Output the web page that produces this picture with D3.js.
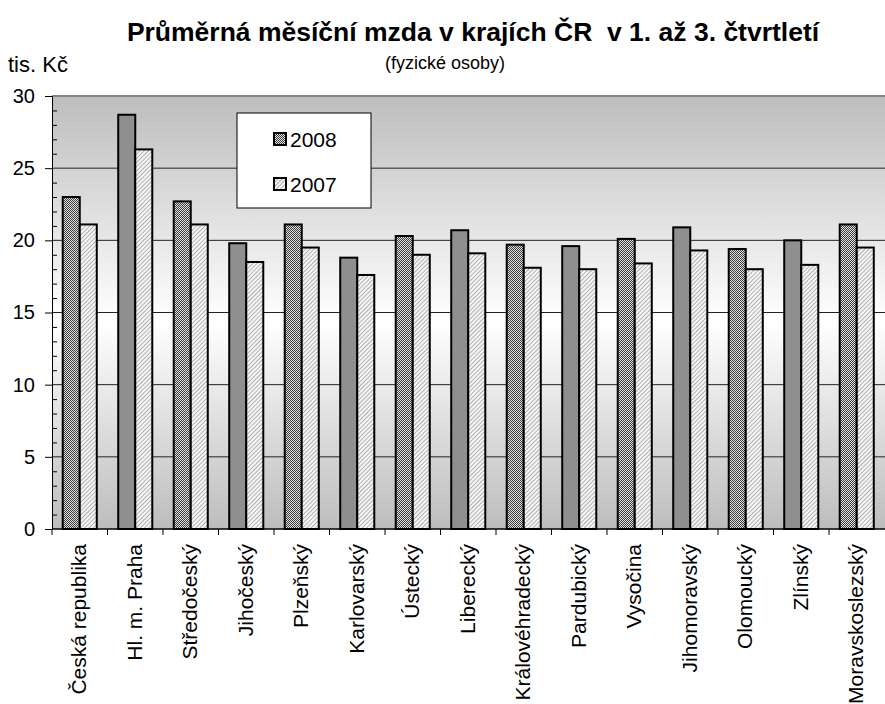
<!DOCTYPE html>
<html>
<head>
<meta charset="utf-8">
<script src="https://cdn.jsdelivr.net/npm/d3@7"></script>
<style>
  body { margin: 0; background: #fff; }
  svg { font-family: "Liberation Sans", Arial, sans-serif; }
</style>
</head>
<body>
<div id="chart"></div>
<script>
// Data
const regions = ["Česká republika", "Hl. m. Praha", "Středočeský", "Jihočeský", "Plzeňský",
  "Karlovarský", "Ústecký", "Liberecký", "Královéhradecký", "Pardubický", "Vysočina",
  "Jihomoravský", "Olomoucký", "Zlínský", "Moravskoslezský"];
const years = ["2008", "2007"];
const wage2008 = [23.0, 28.7, 22.7, 19.8, 21.1, 18.8, 20.3, 20.7, 19.7, 19.6, 20.1, 20.9, 19.4, 20.0, 21.1];
const wage2007 = [21.1, 26.3, 21.1, 18.5, 19.5, 17.6, 19.0, 19.1, 18.1, 18.0, 18.4, 19.3, 18.0, 18.3, 19.5];
const yTicks = [0, 5, 10, 15, 20, 25, 30];

const width = 885, height = 704;
const margins = {top: 96, right: 0, bottom: 175, left: 52};

const svg = d3.select("#chart").append("svg")
  .attr("width", width)
  .attr("height", height);

const defs = svg.append("defs");

// background gradient of the plot area
const grad = defs.append("linearGradient")
  .attr("id", "bg").attr("x1", 0).attr("y1", 0).attr("x2", 0).attr("y2", 1);
grad.append("stop").attr("offset", "0%").attr("stop-color", "#bdbdbd");
grad.append("stop").attr("offset", "52%").attr("stop-color", "#ffffff");
grad.append("stop").attr("offset", "100%").attr("stop-color", "#bdbdbd");

// 2008: fine checker
const p1 = defs.append("pattern").attr("id", "p2008")
  .attr("width", 2).attr("height", 2).attr("patternUnits", "userSpaceOnUse");
p1.append("rect").attr("width", 2).attr("height", 2).attr("fill", "#e2e2e2");
p1.append("rect").attr("width", 1).attr("height", 1).attr("fill", "#3c3c3c");
p1.append("rect").attr("x", 1).attr("y", 1).attr("width", 1).attr("height", 1).attr("fill", "#3c3c3c");

// 2007: light diagonal hatch
const p2 = defs.append("pattern").attr("id", "p2007")
  .attr("width", 3).attr("height", 3).attr("patternUnits", "userSpaceOnUse")
  .attr("patternTransform", "rotate(45)");
p2.append("rect").attr("width", 3).attr("height", 3).attr("fill", "#f6f6f6");
p2.append("rect").attr("width", 1).attr("height", 3).attr("fill", "#b0b0b0");

const fills = {"2008": "url(#p2008)", "2007": "url(#p2007)"};

// Scales
const x0 = d3.scaleBand()
  .domain(regions)
  .range([margins.left, 884.5])
  .padding(0);

const x1 = d3.scaleBand()
  .domain(years)
  .range([0, x0.bandwidth()])
  .paddingInner(0)
  .paddingOuter(0.63);

const y = d3.scaleLinear()
  .domain([0, 30])
  .range([height - margins.bottom, margins.top]);

// Plot background
svg.append("rect")
  .attr("x", margins.left)
  .attr("y", y(30))
  .attr("width", width - margins.left)
  .attr("height", y(0) - y(30))
  .attr("fill", "url(#bg)");

// Top border
svg.append("line")
  .attr("x1", margins.left).attr("x2", width)
  .attr("y1", y(30)).attr("y2", y(30))
  .attr("stroke", "#858585").attr("stroke-width", 2);

// Gridlines
svg.append("g")
  .selectAll("line")
  .data(yTicks.filter(d => d > 0 && d < 30))
  .enter().append("line")
  .attr("x1", margins.left).attr("x2", width)
  .attr("y1", d => y(d)).attr("y2", d => y(d))
  .attr("stroke", "#222").attr("stroke-width", 1);

// Bars
const rows = regions.map((r, i) => ({region: r, values: {"2008": wage2008[i], "2007": wage2007[i]}}));

const groups = svg.selectAll(".bar")
  .data(rows)
  .enter().append("g")
  .attr("class", "bar")
  .attr("transform", d => `translate(${x0(d.region)},0)`);

groups.selectAll("rect")
  .data(d => years.map(yr => ({year: yr, value: d.values[yr]})))
  .enter().append("rect")
  .attr("x", d => x1(d.year))
  .attr("y", d => y(d.value))
  .attr("width", x1.bandwidth())
  .attr("height", d => y(0) - y(d.value))
  .attr("fill", d => fills[d.year])
  .attr("stroke", "#000")
  .attr("stroke-width", 2);

// Y axis with major and minor ticks
const yAxis = svg.append("g")
  .attr("transform", `translate(${margins.left},0)`)
  .call(d3.axisLeft(y).tickValues(yTicks).tickSize(7).tickPadding(10));
yAxis.select(".domain").attr("stroke", "#000");
yAxis.selectAll(".tick line").attr("stroke", "#000");
yAxis.selectAll("text").style("font-size", "20px").attr("fill", "#000");

const yMinor = svg.append("g")
  .attr("transform", `translate(${margins.left},0)`)
  .call(d3.axisRight(y).tickValues(d3.range(1, 30).filter(v => v % 5 !== 0)).tickSize(5).tickFormat(""));
yMinor.select(".domain").remove();
yMinor.selectAll(".tick line").attr("stroke", "#000");

// X axis: ticks at category boundaries
const xAxisG = svg.append("g");
xAxisG.append("line")
  .attr("x1", margins.left).attr("x2", width)
  .attr("y1", y(0)).attr("y2", y(0))
  .attr("stroke", "#000").attr("stroke-width", 1.5);
xAxisG.selectAll(".xtick")
  .data(regions)
  .enter().append("line")
  .attr("x1", d => x0(d)).attr("x2", d => x0(d))
  .attr("y1", y(0)).attr("y2", y(0) + 6)
  .attr("stroke", "#000");

// X labels
svg.append("g")
  .selectAll("text")
  .data(regions)
  .enter().append("text")
  .attr("transform", d => `translate(${x0(d) + x0.bandwidth() / 2},${y(0) + 15}) rotate(-90)`)
  .attr("dy", "0.3em")
  .attr("text-anchor", "end")
  .style("font-size", "21px")
  .text(d => d);

// Legend
const legend = svg.append("g").attr("transform", "translate(237,113)");
legend.append("rect")
  .attr("width", 134).attr("height", 95)
  .attr("fill", "#fff").attr("stroke", "#000").attr("stroke-width", 1);
years.forEach((yr, i) => {
  legend.append("rect")
    .attr("x", 37).attr("y", 20 + i * 45)
    .attr("width", 12).attr("height", 12)
    .attr("fill", fills[yr])
    .attr("stroke", "#000").attr("stroke-width", 2);
  legend.append("text")
    .attr("x", 53).attr("y", 34 + i * 45)
    .style("font-size", "21px")
    .text(yr);
});

// Titles
svg.append("text")
  .attr("x", 473).attr("y", 41)
  .attr("text-anchor", "middle")
  .style("font-size", "26.5px").style("font-weight", "bold")
  .style("white-space", "pre")
  .text("Průměrná měsíční mzda v krajích ČR  v 1. až 3. čtvrtletí");

svg.append("text")
  .attr("x", 445).attr("y", 69)
  .attr("text-anchor", "middle")
  .style("font-size", "18px")
  .text("(fyzické osoby)");

svg.append("text")
  .attr("x", 8).attr("y", 72)
  .style("font-size", "22px")
  .text("tis. Kč");
</script>
</body>
</html>
